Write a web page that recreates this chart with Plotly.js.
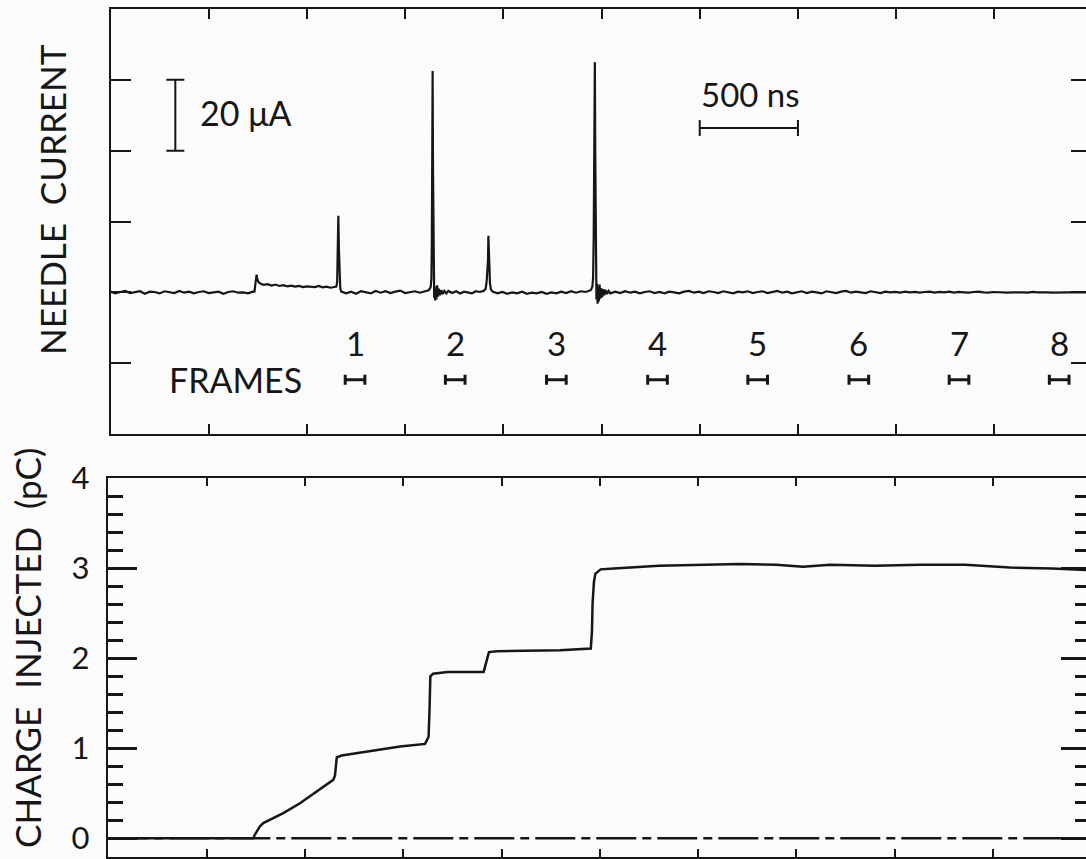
<!DOCTYPE html>
<html>
<head>
<meta charset="utf-8">
<script src="https://cdn.plot.ly/plotly-3.0.1.min.js"></script>
<style>
html, body { margin: 0; padding: 0; overflow: hidden; background: #fbfbfb; }
#chart { width: 1100px; height: 859px; }
</style>
</head>
<body>
<div id="chart"></div>
<script>
// ---- Needle current trace (time in ns, current in µA) ----
const needleTime = [
  0, 25, 50, 75, 100, 125, 150, 175, 200, 225,
  250, 275, 300, 325, 350, 375, 400, 425, 450, 475,
  500, 525, 550, 575, 600, 625, 650, 675, 700, 725,
  733, 738, 744, 748, 755, 765, 780, 800, 820, 840,
  860, 880, 900, 920, 940, 960, 980, 1000, 1020, 1040,
  1060, 1080, 1100, 1120, 1140, 1150,
  1154, 1157, 1160, 1163, 1166, 1170, 1175,
  1200, 1225, 1250, 1275, 1300, 1325, 1350, 1375, 1400, 1425,
  1450, 1475, 1500, 1525, 1550, 1575, 1600, 1620,
  1630, 1634, 1636, 1638, 1640, 1642, 1644, 1646, 1648, 1650,
  1653, 1656, 1659, 1663, 1667, 1672, 1678, 1685, 1692, 1700,
  1710, 1720,
  1740, 1760, 1780, 1800, 1820, 1840, 1860, 1880, 1900,
  1910, 1915, 1919, 1922, 1924, 1926, 1928, 1932, 1937, 1945,
  1970, 1995, 2020, 2045, 2070, 2095, 2120, 2145, 2170, 2195,
  2220, 2245, 2270, 2295, 2320, 2345, 2370, 2395, 2420, 2445,
  2453, 2457, 2460, 2463, 2466, 2468, 2470, 2472, 2474, 2477,
  2480, 2483, 2486, 2490, 2494, 2498, 2503, 2508, 2514, 2520,
  2528, 2536, 2545,
  2570, 2595, 2620, 2645, 2670, 2695, 2720, 2745, 2770, 2795,
  2820, 2845, 2870, 2895, 2920, 2945, 2970, 2995, 3020, 3045,
  3070, 3095, 3120, 3145, 3170, 3195, 3220, 3245, 3270, 3295,
  3320, 3345, 3370, 3395, 3420, 3445, 3470, 3495, 3520, 3545,
  3570, 3595, 3620, 3645, 3670, 3695, 3720, 3745, 3770, 3795,
  3820, 3845, 3870, 3895, 3920, 3945, 3970, 3995, 4020, 4045,
  4070, 4095, 4120, 4145, 4170, 4195, 4220, 4245, 4270, 4295,
  4320, 4345, 4370, 4395, 4420, 4445, 4470, 4495, 4520, 4545,
  4570, 4595, 4620, 4645, 4670, 4695, 4720, 4745, 4770, 4795,
  4820, 4845, 4870, 4895, 4920, 4945, 4970, 5000
];
const needleCurrent = [
  0.2, -0.3, 0.1, 0.4, -0.2, 0.0, 0.3, -0.4, 0.2, 0.1,
  -0.3, 0.3, 0.0, -0.2, 0.4, -0.1, 0.2, -0.3, 0.1, 0.3,
  -0.2, 0.0, 0.2, -0.4, 0.1, 0.3, -0.1, 0.0, -0.3, 0.2,
  0.2, 2.5, 5.0, 3.6, 2.8, 2.4, 2.1, 2.3, 1.9, 2.2,
  1.8, 2.0, 1.7, 1.9, 1.6, 1.8, 1.5, 1.7, 1.6, 1.5,
  1.8, 1.4, 1.6, 1.3, 1.5, 1.6,
  3.0, 10.0, 21.6, 12.0, 4.0, 1.0, 0.2,
  -0.3, 0.2, -0.4, 0.3, 0.0, -0.3, 0.4, -0.1, 0.3, -0.2,
  0.2, 0.5, -0.2, 0.1, 0.3, -0.1, 0.4, 0.6,
  1.5, 4.0, 14.0, 40.0, 62.5, 35.0, 14.0, 2.0, -1.5, 1.8,
  -2.3, 0.5, -2.0, 2.0, -1.2, 1.0, -0.8, 0.6, -0.5, 0.4,
  -0.3, 0.4,
  -0.2, 0.3, -0.3, 0.2, 0.0, -0.3, 0.3, 0.1, 0.4,
  1.0, 3.0, 7.0, 9.0, 16.0, 12.0, 6.0, 2.5, 0.8, 0.2,
  -0.3, 0.1, -0.4, 0.0, -0.3, 0.2, -0.4, -0.1, -0.3, 0.1,
  -0.4, 0.0, -0.3, 0.2, -0.2, 0.3, -0.1, 0.3, 0.1, 0.6,
  1.5, 4.0, 15.0, 45.0, 65.0, 40.0, 16.0, 3.0, -2.0, 2.5,
  -3.2, 1.5, -2.6, 2.2, -1.8, 1.2, -1.4, 0.9, -0.8, 0.7,
  -0.5, 0.4, -0.3,
  0.2, -0.2, 0.3, -0.1, 0.2, -0.3, 0.1, 0.3, -0.2, 0.1,
  -0.3, 0.2, 0.0, -0.3, 0.2, 0.4, -0.1, 0.2, -0.2, 0.3,
  0.1, -0.2, 0.3, 0.0, -0.3, 0.2, 0.0, 0.3, -0.2, 0.1,
  0.3, -0.2, 0.2, 0.4, -0.1, 0.2, -0.3, 0.1, 0.3, -0.2,
  0.2, 0.0, -0.3, 0.3, 0.1, -0.2, 0.2, 0.4, -0.1, 0.2,
  0.0, -0.2, 0.3, 0.1, -0.2, 0.2, 0.0, 0.1, -0.1, 0.2,
  0.0, 0.1, -0.1, 0.1, 0.2, -0.1, 0.1, 0.0, 0.2, -0.1,
  0.1, 0.0, -0.1, 0.1, 0.2, 0.0, -0.1, 0.1, 0.0, 0.1,
  -0.1, 0.0, 0.1, 0.0, -0.1, 0.1, 0.0, 0.1, 0.0, -0.1,
  0.0, 0.1, 0.0, 0.0, 0.1, 0.0, 0.0, 0.0
];

// ---- Charge injected (time in ns, charge in pC) ----
const chargeTime = [
  0, 737, 745, 755, 770, 788, 840, 890, 975, 1060,
  1144, 1153, 1158, 1162, 1187, 1314, 1484, 1611, 1629, 1634,
  1638, 1652, 1725, 1909, 1920, 1928, 1936, 1977, 2297, 2454,
  2460, 2463, 2470, 2477, 2504, 2572, 2801, 3213, 3396, 3534,
  3671, 3900, 4129, 4357, 4586, 4800, 5000
];
const chargeValue = [
  0, 0, 0.04, 0.08, 0.13, 0.17, 0.23, 0.28, 0.39, 0.52,
  0.65, 0.70, 0.80, 0.90, 0.92, 0.96, 1.02, 1.05, 1.13, 1.45,
  1.80, 1.83, 1.85, 1.85, 1.94, 2.02, 2.07, 2.08, 2.09, 2.11,
  2.30, 2.61, 2.85, 2.94, 2.99, 3.00, 3.03, 3.05, 3.04, 3.02,
  3.04, 3.03, 3.04, 3.04, 3.01, 3.00, 2.98
];
const zeroLineTime = [0, 5000];
const zeroLineValue = [0, 0];

// ---- Frames ----
const frameCenters = [1245, 1755, 2270, 2785, 3295, 3810, 4320, 4830];
const frameLabels = ['1', '2', '3', '4', '5', '6', '7', '8'];
const frameHalfWidth = 50;

// ---- Axis tick labels for charge ----
const chargeTickVals = [0, 1, 2, 3, 4];
const chargeTickText = ['0', '1', '2', '3', '4'];

const INK = '#161616';
const FONT = 'Lato, "Liberation Sans", sans-serif';
const W = 1100, H = 859;

const traces = [
  { x: needleTime, y: needleCurrent, xaxis: 'x', yaxis: 'y', mode: 'lines',
    line: { color: INK, width: 2.2 }, hoverinfo: 'skip' },
  // 20 µA scale bar
  { x: [330], y: [50], xaxis: 'x', yaxis: 'y', mode: 'markers',
    marker: { size: 1, color: 'rgba(0,0,0,0)' },
    error_y: { type: 'constant', value: 10, width: 9, thickness: 2, color: INK } },
  // 500 ns scale bar
  { x: [3250], y: [46.4], xaxis: 'x', yaxis: 'y', mode: 'markers',
    marker: { size: 1, color: 'rgba(0,0,0,0)' },
    error_x: { type: 'constant', value: 250, width: 8, thickness: 2, color: INK } },
  // frame markers
  { x: frameCenters, y: frameCenters.map(() => -24.7), xaxis: 'x', yaxis: 'y', mode: 'markers',
    marker: { size: 1, color: 'rgba(0,0,0,0)' },
    error_x: { type: 'constant', value: frameHalfWidth, width: 5, thickness: 3, color: INK } },
  // zero reference line
  { x: zeroLineTime, y: zeroLineValue, xaxis: 'x2', yaxis: 'y2', mode: 'lines',
    line: { color: INK, width: 2.5, dash: '40px,6px,9px,6px' } },
  // charge curve
  { x: chargeTime, y: chargeValue, xaxis: 'x2', yaxis: 'y2', mode: 'lines',
    line: { color: INK, width: 2.5 } }
];

const annotations = [
  { xref: 'paper', yref: 'paper', x: 52 / W, y: 1 - 200 / H, xanchor: 'center', yanchor: 'middle',
    text: 'NEEDLE  CURRENT', textangle: -90, showarrow: false,
    font: { family: FONT, size: 35, color: INK } },
  { xref: 'paper', yref: 'paper', x: 27 / W, y: 1 - 648 / H, xanchor: 'center', yanchor: 'middle',
    text: 'CHARGE  INJECTED  (pC)', textangle: -90, showarrow: false,
    font: { family: FONT, size: 35, color: INK } },
  { xref: 'x', yref: 'y', x: 445, y: 50.7, xanchor: 'left', yanchor: 'middle', text: '20 μA',
    showarrow: false, font: { family: FONT, size: 34, color: INK } },
  { xref: 'x', yref: 'y', x: 2995, y: 56.1, xanchor: 'left', yanchor: 'middle', text: '500 ns',
    showarrow: false, font: { family: FONT, size: 33, color: INK } },
  { xref: 'x', yref: 'y', x: 634, y: -24.7, xanchor: 'center', yanchor: 'middle', text: 'FRAMES',
    showarrow: false, font: { family: FONT, size: 34, color: INK } }
];
frameCenters.forEach((c, i) => {
  annotations.push({ xref: 'x', yref: 'y', x: c, y: -14.3, xanchor: 'center', yanchor: 'middle',
    text: frameLabels[i], showarrow: false, font: { family: FONT, size: 33, color: INK } });
});

const layout = {
  width: W, height: H,
  margin: { l: 0, r: 0, t: 0, b: 0 },
  paper_bgcolor: '#fbfbfb', plot_bgcolor: '#fbfbfb',
  showlegend: false,
  font: { family: FONT, color: INK },
  xaxis: {
    domain: [110.5 / W, 1091 / W], anchor: 'y', range: [0, 4992],
    showgrid: false, zeroline: false, showline: true, linewidth: 2, linecolor: INK, mirror: 'ticks',
    tickmode: 'linear', tick0: 0, dtick: 500, ticks: 'inside', ticklen: 10, tickwidth: 2, tickcolor: INK,
    showticklabels: false, automargin: false
  },
  yaxis: {
    domain: [1 - 434 / H, 1 - 9 / H], anchor: 'x', range: [-40, 80],
    showgrid: false, zeroline: false, showline: true, linewidth: 2, linecolor: INK, mirror: 'ticks',
    tickmode: 'linear', tick0: -40, dtick: 20, ticks: 'inside', ticklen: 20, tickwidth: 2, tickcolor: INK,
    showticklabels: false, automargin: false
  },
  xaxis2: {
    domain: [108.3 / W, 1090 / W], anchor: 'y2', range: [0, 4993],
    showgrid: false, zeroline: false, showline: true, linewidth: 2.5, linecolor: INK, mirror: 'ticks',
    tickmode: 'linear', tick0: 0, dtick: 500, ticks: 'inside', ticklen: 8, tickwidth: 2, tickcolor: INK,
    showticklabels: false, automargin: false
  },
  yaxis2: {
    domain: [1 - 856.7 / H, 1 - 478.3 / H], anchor: 'x2', range: [-0.204, 4.002],
    showgrid: false, zeroline: false, showline: true, linewidth: 2.5, linecolor: INK, mirror: 'ticks',
    tickmode: 'array', tickvals: chargeTickVals, ticktext: chargeTickText,
    ticks: 'inside', ticklen: 29, tickwidth: 2.5, tickcolor: INK,
    minor: { tickmode: 'linear', tick0: 0, dtick: 0.2, ticks: 'inside', ticklen: 15, tickwidth: 2.5, tickcolor: INK },
    showticklabels: true, tickfont: { family: FONT, size: 31, color: INK },
    ticklabelstandoff: 10, automargin: false
  },
  annotations: annotations
};

Plotly.newPlot('chart', traces, layout, { displayModeBar: false, staticPlot: true });
</script>
</body>
</html>
